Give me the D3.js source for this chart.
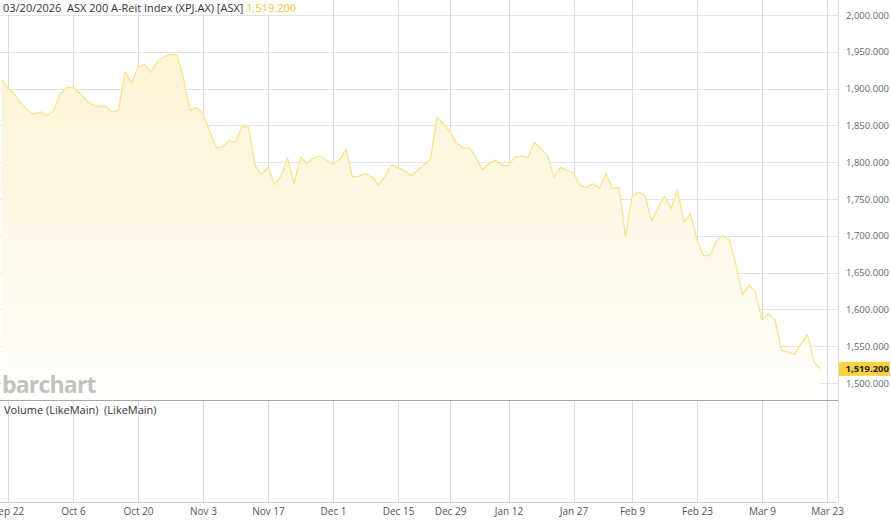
<!DOCTYPE html>
<html><head><meta charset="utf-8">
<script src="https://cdn.jsdelivr.net/npm/d3@7"></script>
<style>body{margin:0;background:#fff;overflow:hidden}svg{display:block}</style>
</head><body><svg id="c" width="891" height="522"></svg>
<script>
// ---- data ----
const firstDay = "2025-09-19";
const holidays = ["2025-12-25", "2025-12-26", "2026-01-01", "2026-01-26"];
const closes = [
  1912.6, 1900.4, 1892.3, 1880.2, 1871.0, 1865.3, 1868.5, 1863.5, 1869.8, 1892.3,
  1901.3, 1901.8, 1894.6, 1884.2, 1877.9, 1875.7, 1876.1, 1868.0, 1870.7, 1923.0,
  1908.1, 1929.3, 1932.9, 1922.1, 1937.4, 1943.2, 1946.4, 1945.5, 1914.0, 1870.7,
  1874.3, 1865.3, 1843.0, 1820.3, 1820.7, 1829.7, 1827.5, 1848.6, 1847.7, 1795.5,
  1783.3, 1793.2, 1769.8, 1781.1, 1805.9, 1770.7, 1807.2, 1798.2, 1805.9, 1808.1,
  1802.7, 1796.8, 1803.6, 1817.1, 1779.7, 1781.1, 1784.7, 1780.2, 1768.9, 1781.1,
  1796.4, 1792.3, 1788.7, 1781.5, 1789.0, 1796.2, 1804.3, 1861.3, 1852.3, 1841.9,
  1826.0, 1819.2, 1819.7, 1806.6, 1789.8, 1798.0, 1802.5, 1795.7, 1796.2, 1807.0,
  1808.4, 1806.6, 1826.9, 1818.8, 1809.3, 1779.4, 1793.4, 1788.9, 1785.3, 1769.0,
  1765.4, 1770.8, 1764.5, 1783.9, 1763.6, 1766.3, 1699.2, 1753.6, 1759.5, 1755.0,
  1720.5, 1737.7, 1753.6, 1736.8, 1761.8, 1718.6, 1730.0, 1694.5, 1672.7, 1673.6,
  1693.2, 1700.0, 1693.6, 1660.5, 1619.6, 1633.2, 1622.7, 1585.5, 1594.5, 1585.5,
  1544.6, 1541.8, 1539.1, 1552.7, 1566.0, 1528.7, 1519.2
];
const yTicks = [1500, 1550, 1600, 1650, 1700, 1750, 1800, 1850, 1900, 1950, 2000];
const xTickDates = ["2025-09-22", "2025-10-06", "2025-10-20", "2025-11-03", "2025-11-17", "2025-12-01",
  "2025-12-15", "2025-12-29", "2026-01-12", "2026-01-27", "2026-02-09", "2026-02-23", "2026-03-09", "2026-03-23"];
const xTickLabels = ["Sep 22", "Oct 6", "Oct 20", "Nov 3", "Nov 17", "Dec 1",
  "Dec 15", "Dec 29", "Jan 12", "Jan 27", "Feb 9", "Feb 23", "Mar 9", "Mar 23"];
const titleText = "03/20/2026  ASX 200 A-Reit Index (XPJ.AX) [ASX]";
const lastText = "1,519.200";

// ---- trading calendar ----
const hol = new Set(holidays);
const tradingDays = [];
{
  let d = new Date(firstDay + "T00:00:00Z");
  while (tradingDays.length < closes.length + 5) {
    const iso = d.toISOString().slice(0, 10);
    const wd = d.getUTCDay();
    if (wd !== 0 && wd !== 6 && !hol.has(iso)) tradingDays.push(iso);
    d = new Date(d.getTime() + 86400000);
  }
}
const idxOf = iso => tradingDays.indexOf(iso);
const data = closes.map((v, i) => ({ i, v }));

// ---- layout ----
const W = 891, H = 522;
const plotRight = 838, paneBottom = 400, axisY = 502;
const svg = d3.select("#c");
const font = "'Open Sans', 'Noto Sans', sans-serif";

const x = d3.scaleLinear().domain([0, 127]).range([1.5, 827]);
const y = d3.scaleLinear().domain([1500, 2000]).range([383, 15]);

const defs = svg.append("defs");
const grad = defs.append("linearGradient").attr("id", "fillg")
  .attr("gradientUnits", "userSpaceOnUse").attr("x1", 0).attr("x2", 0).attr("y1", 40).attr("y2", paneBottom);
grad.append("stop").attr("offset", 0).attr("stop-color", "#fdf3d3");
grad.append("stop").attr("offset", 1).attr("stop-color", "#fffefb");

// horizontal gridlines
svg.append("g").selectAll("line").data(yTicks).join("line")
  .attr("x1", 0).attr("x2", plotRight).attr("y1", d => Math.round(y(d)) + 0.5).attr("y2", d => Math.round(y(d)) + 0.5)
  .attr("stroke", "#e3e3e3").attr("stroke-width", 1);

// vertical gridlines
const tickIdx = xTickDates.map(idxOf);
svg.append("g").selectAll("line").data(tickIdx).join("line")
  .attr("x1", d => Math.round(x(d)) + 0.5).attr("x2", d => Math.round(x(d)) + 0.5)
  .attr("y1", 0).attr("y2", axisY)
  .attr("stroke", "#dadada").attr("stroke-width", 1);

// area + line
const area = d3.area().x(d => x(d.i)).y0(paneBottom).y1(d => y(d.v));
const line = d3.line().x(d => x(d.i)).y(d => y(d.v));
svg.append("path").datum(data).attr("d", area).attr("fill", "url(#fillg)");
svg.append("path").datum(data).attr("d", line).attr("fill", "none")
  .attr("stroke", "#fbe28c").attr("stroke-width", 1.3).attr("stroke-linejoin", "round");

// pane separators and border
svg.append("line").attr("x1", 0).attr("x2", plotRight).attr("y1", paneBottom + 0.5).attr("y2", paneBottom + 0.5)
  .attr("stroke", "#a8a8a8");
svg.append("line").attr("x1", 0).attr("x2", plotRight).attr("y1", axisY + 0.5).attr("y2", axisY + 0.5)
  .attr("stroke", "#d0d0d0");
svg.append("line").attr("x1", plotRight + 0.5).attr("x2", plotRight + 0.5).attr("y1", 0).attr("y2", axisY)
  .attr("stroke", "#dadada");

// watermark
svg.append("text").attr("x", 2).attr("y", 393).text("barchart")
  .attr("font-family", font).attr("font-size", 23).attr("font-weight", 700)
  .attr("fill", "#c2c2c2").attr("letter-spacing", -0.8);

// y axis labels
const yAxis = d3.axisRight(y).tickValues(yTicks).tickFormat(d3.format(",.3f")).tickSize(0).tickPadding(0);
const gy = svg.append("g").attr("transform", `translate(${W - 2},0)`).call(yAxis);
gy.select(".domain").remove();
gy.selectAll("text").attr("text-anchor", "end").attr("x", 0)
  .attr("font-family", font).attr("font-size", 9.5).attr("fill", "#666");

// last price label
const ly = y(closes[closes.length - 1]);
svg.append("rect").attr("x", plotRight + 1).attr("y", ly - 7).attr("width", 51).attr("height", 14).attr("fill", "#f6d33f");
svg.append("text").attr("x", W - 2).attr("y", ly).attr("dy", "0.35em").attr("text-anchor", "end")
  .attr("font-family", font).attr("font-size", 9.5).attr("font-weight", 700).attr("fill", "#222").text(lastText);

// x axis
const xAxis = d3.axisBottom(x).tickValues(tickIdx).tickFormat((d, i) => xTickLabels[i]).tickSize(0).tickPadding(6);
const gx = svg.append("g").attr("transform", `translate(0,${axisY})`).call(xAxis);
gx.select(".domain").remove();
gx.selectAll("text").attr("font-family", font).attr("font-size", 10).attr("fill", "#555");

// title
const title = svg.append("text").attr("x", 3).attr("y", 12).attr("font-family", font).attr("font-size", 11).attr("fill", "#333");
title.append("tspan").text(titleText).attr("style", "white-space:pre");
title.append("tspan").text(" " + lastText).attr("fill", "#f3c631");
// white backing behind title
const bb = title.node().getBBox();
svg.insert("rect", "text").attr("x", 0).attr("y", 0).attr("width", bb.x + bb.width + 3).attr("height", 14).attr("fill", "#fff");
title.raise();

// volume label
svg.append("text").attr("x", 4).attr("y", 414).attr("font-family", font).attr("font-size", 11).attr("fill", "#333")
  .attr("style", "white-space:pre").text("Volume (LikeMain)  (LikeMain)");
</script>
</body></html>
